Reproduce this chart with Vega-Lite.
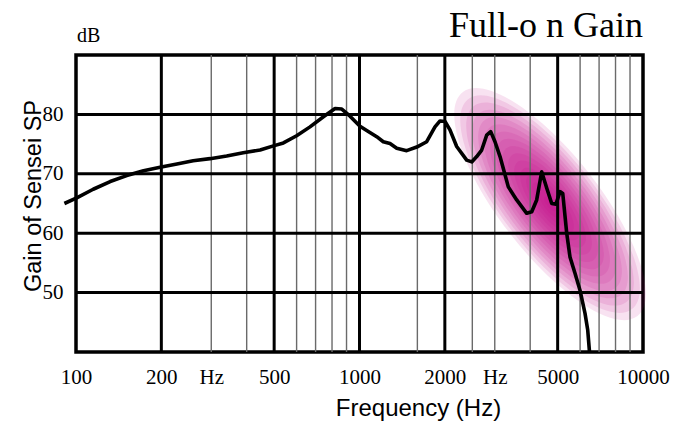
{
  "$schema": "https://vega.github.io/schema/vega-lite/v6.json",
  "width": 567,
  "height": 297,
  "autosize": "none",
  "padding": {"left": 76, "top": 55, "right": 35, "bottom": 70},
  "background": "white",
  "view": {"stroke": "black", "strokeWidth": 3.5},
  "title": {
    "text": "Full-o n Gain",
    "anchor": "end",
    "frame": "group",
    "font": "Liberation Serif",
    "fontSize": 36,
    "fontWeight": "normal",
    "color": "black",
    "baseline": "alphabetic",
    "offset": 0,
    "dy": 47
  },
  "datasets": {
    "response": [
      {"freq": 91, "gain": 65.0}, {"freq": 101, "gain": 66.0}, {"freq": 115, "gain": 67.4},
      {"freq": 132, "gain": 68.7}, {"freq": 151, "gain": 69.7}, {"freq": 173, "gain": 70.5},
      {"freq": 198, "gain": 71.1}, {"freq": 227, "gain": 71.65}, {"freq": 259, "gain": 72.2},
      {"freq": 297, "gain": 72.55}, {"freq": 340, "gain": 73.0}, {"freq": 389, "gain": 73.55},
      {"freq": 446, "gain": 74.0}, {"freq": 497, "gain": 74.7}, {"freq": 539, "gain": 75.2},
      {"freq": 600, "gain": 76.4}, {"freq": 669, "gain": 77.9}, {"freq": 746, "gain": 79.6},
      {"freq": 820, "gain": 81.0}, {"freq": 866, "gain": 80.9}, {"freq": 926, "gain": 79.7},
      {"freq": 1004, "gain": 78.0}, {"freq": 1060, "gain": 77.3}, {"freq": 1150, "gain": 76.25},
      {"freq": 1213, "gain": 75.4}, {"freq": 1281, "gain": 75.1}, {"freq": 1353, "gain": 74.3},
      {"freq": 1467, "gain": 73.9}, {"freq": 1592, "gain": 74.5}, {"freq": 1726, "gain": 75.4},
      {"freq": 1846, "gain": 77.9}, {"freq": 1923, "gain": 78.9}, {"freq": 2003, "gain": 78.8},
      {"freq": 2085, "gain": 77.4}, {"freq": 2202, "gain": 74.6}, {"freq": 2388, "gain": 72.3},
      {"freq": 2488, "gain": 72.0}, {"freq": 2591, "gain": 72.9}, {"freq": 2698, "gain": 74.0},
      {"freq": 2810, "gain": 76.5}, {"freq": 2903, "gain": 77.1}, {"freq": 3006, "gain": 75.4},
      {"freq": 3131, "gain": 72.9}, {"freq": 3349, "gain": 67.8}, {"freq": 3585, "gain": 65.6},
      {"freq": 3889, "gain": 63.35}, {"freq": 4051, "gain": 63.6}, {"freq": 4217, "gain": 65.6},
      {"freq": 4392, "gain": 70.35}, {"freq": 4574, "gain": 67.6}, {"freq": 4764, "gain": 65.0},
      {"freq": 4933, "gain": 64.9}, {"freq": 5096, "gain": 67.0}, {"freq": 5211, "gain": 66.7},
      {"freq": 5382, "gain": 60.0}, {"freq": 5527, "gain": 56.0}, {"freq": 5756, "gain": 53.25},
      {"freq": 5995, "gain": 50.4}, {"freq": 6244, "gain": 46.5}, {"freq": 6383, "gain": 43.7},
      {"freq": 6476, "gain": 40.0}
    ],
    "hotspot": [
      {"freq": 4700, "gain": 64.9, "level": 1}, {"freq": 4700, "gain": 64.9, "level": 2},
      {"freq": 4700, "gain": 64.9, "level": 3}, {"freq": 4700, "gain": 64.9, "level": 4},
      {"freq": 4700, "gain": 64.9, "level": 5}, {"freq": 4700, "gain": 64.9, "level": 6},
      {"freq": 4700, "gain": 64.9, "level": 7}, {"freq": 4700, "gain": 64.9, "level": 8},
      {"freq": 4700, "gain": 64.9, "level": 9}, {"freq": 4700, "gain": 64.9, "level": 10},
      {"freq": 4700, "gain": 64.9, "level": 11}, {"freq": 4700, "gain": 64.9, "level": 12},
      {"freq": 4700, "gain": 64.9, "level": 13}, {"freq": 4700, "gain": 64.9, "level": 14},
      {"freq": 4700, "gain": 64.9, "level": 15}, {"freq": 4700, "gain": 64.9, "level": 16}
    ],
    "minorFreq": [
      {"freq": 300}, {"freq": 400}, {"freq": 600}, {"freq": 700}, {"freq": 800}, {"freq": 900},
      {"freq": 1600}, {"freq": 2500}, {"freq": 3000}, {"freq": 4000}, {"freq": 6000},
      {"freq": 7000}, {"freq": 8000}, {"freq": 9000}
    ],
    "majorFreq": [
      {"freq": 200}, {"freq": 500}, {"freq": 1000}, {"freq": 2000}, {"freq": 5000}
    ],
    "gainLines": [
      {"gain": 50}, {"gain": 60}, {"gain": 70}, {"gain": 80}
    ],
    "unitLabel": [
      {"freq": 100, "gain": 90, "unit": "dB"}
    ]
  },
  "layer": [
    {
      "data": {"name": "hotspot"},
      "mark": {
        "type": "point",
        "filled": true,
        "shape": "M-1,0A1,0.35,0,1,1,1,0A1,0.35,0,1,1,-1,0Z",
        "angle": 52,
        "color": "#bf0085",
        "opacity": 0.112,
        "strokeWidth": 0
      },
      "encoding": {
        "x": {"field": "freq", "type": "quantitative", "scale": {"type": "log", "domain": [100, 10000], "nice": false}},
        "y": {"field": "gain", "type": "quantitative", "scale": {"domain": [40, 90], "nice": false, "zero": false}},
        "size": {"field": "level", "type": "quantitative", "scale": {"type": "pow", "exponent": 2, "domain": [0, 16], "range": [0, 80656]}, "legend": null}
      }
    },
    {
      "data": {"name": "minorFreq"},
      "mark": {"type": "rule", "color": "#6a6a6a", "strokeWidth": 1.4},
      "encoding": {
        "x": {"field": "freq", "type": "quantitative", "scale": {"type": "log", "domain": [100, 10000], "nice": false}}
      }
    },
    {
      "data": {"name": "majorFreq"},
      "mark": {"type": "rule", "color": "black", "strokeWidth": 3},
      "encoding": {
        "x": {"field": "freq", "type": "quantitative", "scale": {"type": "log", "domain": [100, 10000], "nice": false}}
      }
    },
    {
      "data": {"name": "gainLines"},
      "mark": {"type": "rule", "color": "black", "strokeWidth": 3},
      "encoding": {
        "y": {"field": "gain", "type": "quantitative", "scale": {"domain": [40, 90], "nice": false, "zero": false}}
      }
    },
    {
      "data": {"name": "response"},
      "mark": {"type": "line", "color": "black", "strokeWidth": 3.6, "strokeJoin": "round", "strokeCap": "butt"},
      "encoding": {
        "x": {
          "field": "freq",
          "type": "quantitative",
          "scale": {"type": "log", "domain": [100, 10000], "nice": false},
          "axis": {
            "title": "Frequency (Hz)",
            "values": [100, 200, 300, 500, 1000, 2000, 3000, 5000, 10000],
            "labelExpr": "datum.value == 300 || datum.value == 3000 ? 'Hz' : format(datum.value, 'd')",
            "domain": false,
            "ticks": false,
            "grid": false,
            "labelFont": "Liberation Serif",
            "labelFontSize": 21,
            "labelColor": "black",
            "labelPadding": 14,
            "labelFlush": false,
            "labelOverlap": false,
            "titleFont": "Liberation Sans",
            "titleFontSize": 24,
            "titleFontWeight": "normal",
            "titleColor": "black",
            "titleAlign": "center",
            "titleBaseline": "alphabetic",
            "titleX": 342,
            "titleY": 63
          }
        },
        "y": {
          "field": "gain",
          "type": "quantitative",
          "scale": {"domain": [40, 90], "nice": false, "zero": false},
          "axis": {
            "title": "Gain of Sensei SP",
            "values": [50, 60, 70, 80],
            "domain": false,
            "ticks": false,
            "grid": false,
            "labelFont": "Liberation Serif",
            "labelFontSize": 21,
            "labelColor": "black",
            "labelPadding": 13,
            "titleFont": "Liberation Sans",
            "titleFontSize": 23.5,
            "titleFontWeight": "normal",
            "titleColor": "black",
            "titleAngle": 270,
            "titleAlign": "center",
            "titleBaseline": "alphabetic",
            "titleX": -36,
            "titleY": 140.5
          }
        }
      }
    },
    {
      "data": {"name": "unitLabel"},
      "mark": {"type": "text", "font": "Liberation Serif", "fontSize": 20, "color": "black", "align": "left", "baseline": "alphabetic", "dx": 1, "dy": -13},
      "encoding": {
        "x": {"field": "freq", "type": "quantitative", "scale": {"type": "log", "domain": [100, 10000], "nice": false}},
        "y": {"field": "gain", "type": "quantitative", "scale": {"domain": [40, 90], "nice": false, "zero": false}},
        "text": {"field": "unit"}
      }
    }
  ]
}
